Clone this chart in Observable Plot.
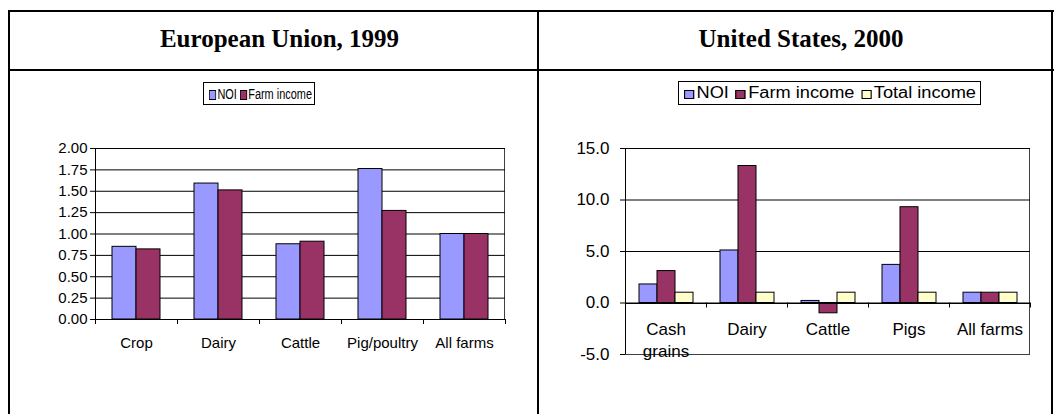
<!DOCTYPE html>
<html>
<head>
<meta charset="utf-8">
<script src="https://cdn.jsdelivr.net/npm/d3@7"></script>
<script src="https://cdn.jsdelivr.net/npm/@observablehq/plot@0.6"></script>
<style>
  html, body { margin: 0; padding: 0; background: #fff; }
  #page { position: relative; width: 1054px; height: 414px; overflow: hidden; font-family: "Liberation Sans", Arial, sans-serif; }
  .line { position: absolute; background: #000; }
  .title { position: absolute; top: 25px; font-family: "Liberation Serif", "Times New Roman", serif; font-weight: bold; font-size: 25px; text-align: center; color: #000; }
  .legend { position: absolute; border: 1px solid #000; background: #fff; box-sizing: border-box; white-space: nowrap; color: #000; overflow: hidden; }
  .legend .inner { position: absolute; left: 5px; top: 50%; display: inline-flex; align-items: center; transform-origin: 0 50%; }
  .legend .item { display: inline-flex; align-items: center; }
  .legend .sw { display: inline-block; border: 1px solid #000; box-sizing: border-box; }
  .chart { position: absolute; }
</style>
</head>
<body>
<div id="page">
  <div class="line" style="left:8px;top:10px;width:1046px;height:2px"></div>
  <div class="line" style="left:8px;top:69px;width:1046px;height:2px"></div>
  <div class="line" style="left:8px;top:10px;width:2px;height:410px"></div>
  <div class="line" style="left:537px;top:10px;width:2px;height:410px"></div>
  <div class="line" style="left:1051px;top:10px;width:2px;height:410px"></div>
  <div class="title" id="t1" style="left:16px;width:527px"></div>
  <div class="title" id="t2" style="left:545px;width:512px"></div>
  <div class="legend" id="leg1" style="left:203px;top:82px;width:112px;height:23px;font-size:15.5px"></div>
  <div class="legend" id="leg2" style="left:678px;top:81px;width:303px;height:24px;font-size:16px"></div>
  <div class="chart" id="c1" style="left:10px;top:120px"></div>
  <div class="chart" id="c2" style="left:540px;top:120px"></div>
</div>
<script>
// ---- Data ----
const euTitle = "European Union, 1999";
const usTitle = "United States, 2000";

const euCategories = ["Crop", "Dairy", "Cattle", "Pig/poultry", "All farms"];
const euSeries = ["NOI", "Farm income"];
const euNOI = [0.85, 1.59, 0.88, 1.76, 1.00];
const euFarmIncome = [0.82, 1.51, 0.91, 1.27, 1.00];
const euTicks = [0, 0.25, 0.5, 0.75, 1, 1.25, 1.5, 1.75, 2];

const usCategories = ["Cash grains", "Dairy", "Cattle", "Pigs", "All farms"];
const usCategoryLabels = ["Cash\ngrains", "Dairy", "Cattle", "Pigs", "All farms"];
const usSeries = ["NOI", "Farm income", "Total income"];
const usNOI = [1.8, 5.1, 0.2, 3.7, 1.0];
const usFarmIncome = [3.1, 13.3, -1.0, 9.3, 1.0];
const usTotalIncome = [1.0, 1.0, 1.0, 1.0, 1.0];
const usTicks = [-5, 0, 5, 10, 15];

const seriesColors = ["#9999FF", "#993366", "#FFFFCC"];

// ---- Build tables ----
function table(cats, seriesNames, seriesValues) {
  const rows = [];
  cats.forEach((c, i) => seriesNames.forEach((s, j) => rows.push({cat: c, series: s, value: seriesValues[j][i]})));
  return rows;
}
const euData = table(euCategories, euSeries, [euNOI, euFarmIncome]);
const usData = table(usCategories, usSeries, [usNOI, usFarmIncome, usTotalIncome]);

document.getElementById("t1").textContent = euTitle;
document.getElementById("t2").textContent = usTitle;

function legend(el, names, swSize, gap, targetWidth) {
  const inner = document.createElement("span");
  inner.className = "inner";
  names.forEach((n, i) => {
    const it = document.createElement("span");
    it.className = "item";
    if (i < names.length - 1) it.style.marginRight = gap + "px";
    const sw = document.createElement("span");
    sw.className = "sw";
    sw.style.width = swSize + "px";
    sw.style.height = swSize + "px";
    sw.style.background = seriesColors[i];
    sw.style.marginRight = "2px";
    sw.style.marginTop = "2px";
    const tx = document.createElement("span");
    tx.textContent = n;
    it.appendChild(sw); it.appendChild(tx);
    inner.appendChild(it);
  });
  el.appendChild(inner);
  const w = inner.getBoundingClientRect().width;
  inner.style.transform = `translateY(-50%) scaleX(${targetWidth / w})`;
}
legend(document.getElementById("leg1"), euSeries, 10, 4, 103);
legend(document.getElementById("leg2"), usSeries, 9, 6, 292);

function chart(opts) {
  const {data, cats, labels, series, ticks, domain, fmt, width, height, margins, fontSize, paddingOuter, labelDy, tickPadding} = opts;
  const plot = Plot.plot({
    width, height,
    marginLeft: margins[0], marginRight: margins[1], marginTop: margins[2], marginBottom: margins[3],
    style: {fontFamily: '"Liberation Sans", Arial, sans-serif', fontSize: fontSize + "px", color: "#000", background: "transparent", overflow: "visible"},
    fx: {domain: cats, padding: 0, axis: null, label: null},
    x: {domain: series, paddingInner: 0, paddingOuter, axis: null},
    y: {domain, ticks, tickFormat: fmt, tickSize: 5, tickPadding, label: null},
    color: {domain: series, range: seriesColors.slice(0, series.length)},
    marks: [
      Plot.ruleY(ticks.filter(t => t !== domain[0]), {stroke: "#000", strokeWidth: 1, strokeOpacity: 1}),
      Plot.barY(data, {fx: "cat", x: "series", y: "value", fill: "series", stroke: "#000", strokeWidth: 1}),
      Plot.text(cats, {fx: d => d, y: () => 0, text: (d, i) => labels[i], lineAnchor: "top", dy: labelDy, lineHeight: 1.3, fill: "#000"})
    ]
  });
  // plot area border, value axis line and category boundary ticks drawn from the plot's own scales
  const fx = plot.scale("fx"), y = plot.scale("y");
  const x0 = fx.apply(cats[0]), x1 = fx.apply(cats[cats.length - 1]) + fx.bandwidth;
  const yTop = y.apply(domain[1]), yBot = y.apply(domain[0]), y0 = y.apply(0);
  const svg = d3.select(plot);
  const g = svg.insert("g", ":first-child");
  g.append("rect").attr("x", x0 + 0.5).attr("y", yTop + 0.5).attr("width", x1 - x0 - 1).attr("height", yBot - yTop)
    .attr("fill", "none").attr("stroke", "#404040");
  const top = svg.append("g").attr("stroke", "#000");
  top.append("line").attr("x1", x0 + 0.5).attr("x2", x0 + 0.5).attr("y1", yTop).attr("y2", yBot);
  const bounds = cats.map(c => fx.apply(c)).concat([x1]);
  bounds.forEach(b => {
    const bx = Math.round(b) + 0.5;
    top.append("line").attr("x1", bx).attr("x2", bx).attr("y1", y0).attr("y2", y0 + 5);
  });
  top.append("line").attr("x1", x0).attr("x2", x1).attr("y1", Math.round(y0) + 0.5).attr("y2", Math.round(y0) + 0.5);
  return plot;
}

document.getElementById("c1").appendChild(chart({
  data: euData, cats: euCategories, labels: euCategories, series: euSeries, ticks: euTicks,
  domain: [0, 2], fmt: d => d.toFixed(2), width: 520, height: 250, margins: [83, 24, 28, 51],
  fontSize: 15, paddingOuter: 0.65, labelDy: 15, tickPadding: 3
}));
document.getElementById("c2").appendChild(chart({
  data: usData, cats: usCategories, labels: usCategoryLabels, series: usSeries, ticks: usTicks,
  domain: [-5, 15], fmt: d => d.toFixed(1), width: 510, height: 250, margins: [84, 19, 28, 16],
  fontSize: 17, paddingOuter: 0.7, labelDy: 16, tickPadding: 11
}));
</script>
</body>
</html>
